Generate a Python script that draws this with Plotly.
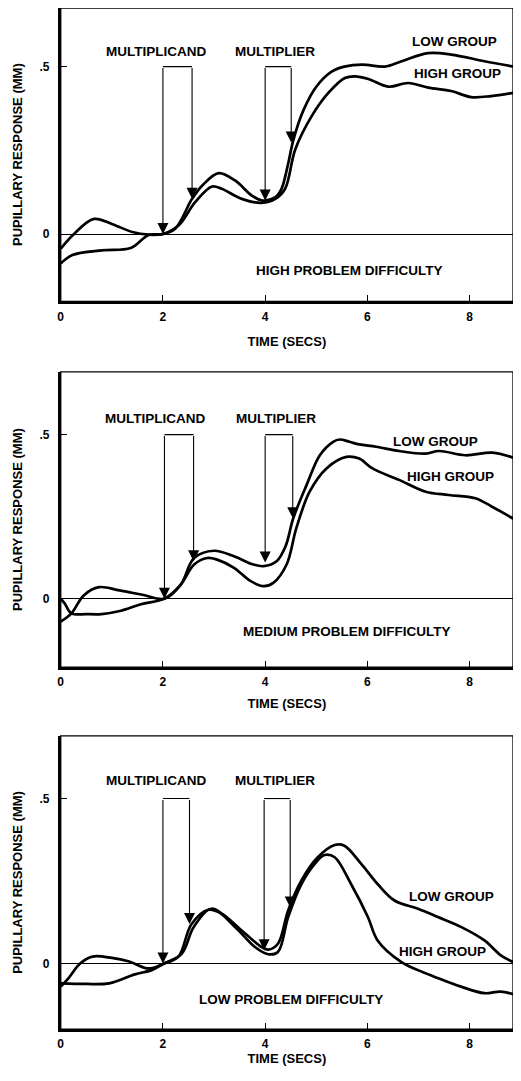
import plotly.graph_objects as go
from plotly.subplots import make_subplots

# ---------------- data ----------------
time_ticks = [0, 2, 4, 6, 8]
time_tick_labels = ["0", "2", "4", "6", "8"]
resp_ticks = [0, 0.5]
resp_tick_labels = ["0", ".5"]

panel_titles = ["HIGH PROBLEM DIFFICULTY", "MEDIUM PROBLEM DIFFICULTY", "LOW PROBLEM DIFFICULTY"]

# High problem difficulty
high_low_t = [0, 0.26, 0.65, 1.0, 1.4, 1.72, 2.0, 2.24, 2.57, 2.77, 3.09, 3.41, 3.74, 3.95, 4.2, 4.32,
              4.45, 4.55, 4.75, 5.0, 5.3, 5.55, 5.9, 6.34, 6.67, 7.19, 7.64, 8.29, 8.87]
high_low_y = [-0.044, 0.0, 0.045, 0.03, 0.006, -0.002, 0.0, 0.016, 0.105, 0.145, 0.182, 0.16, 0.115, 0.1, 0.11, 0.135,
              0.21, 0.28, 0.37, 0.44, 0.485, 0.5, 0.506, 0.5, 0.516, 0.54, 0.536, 0.516, 0.5]
high_high_t = [0, 0.23, 0.81, 1.37, 1.72, 2.0, 2.31, 2.63, 2.96, 3.15, 3.54, 3.93, 4.2, 4.39, 4.59, 4.91,
               5.24, 5.56, 5.76, 6.02, 6.41, 6.8, 7.19, 7.64, 8.03, 8.42, 8.87]
high_high_y = [-0.088, -0.063, -0.049, -0.042, -0.003, 0.0, 0.026, 0.095, 0.142, 0.135, 0.105, 0.093, 0.105, 0.135, 0.253, 0.352,
               0.422, 0.466, 0.471, 0.463, 0.44, 0.451, 0.437, 0.427, 0.409, 0.412, 0.422]

# Medium problem difficulty
med_low_t = [0, 0.21, 0.45, 0.75, 1.15, 1.6, 2.03, 2.35, 2.61, 3.0, 3.39, 3.77, 3.97, 4.23, 4.4, 4.55, 4.81,
             5.07, 5.33, 5.46, 5.65, 5.84, 6.17, 6.62, 7.14, 7.4, 7.92, 8.45, 8.9]
med_low_y = [-0.07, -0.045, 0.01, 0.035, 0.025, 0.012, 0.0, 0.043, 0.124, 0.146, 0.129, 0.104, 0.099, 0.115, 0.16, 0.245, 0.346,
             0.437, 0.478, 0.485, 0.478, 0.47, 0.463, 0.45, 0.442, 0.45, 0.437, 0.445, 0.427]
med_high_t = [0, 0.08, 0.21, 0.5, 0.8, 1.18, 1.57, 2.03, 2.35, 2.61, 2.87, 3.06, 3.39, 3.71, 3.97, 4.16, 4.42,
              4.61, 4.87, 5.2, 5.59, 5.84, 6.1, 6.62, 7.14, 7.59, 8.11, 8.43, 8.9]
med_high_y = [0.0, -0.015, -0.045, -0.047, -0.047, -0.037, -0.017, 0.0, 0.043, 0.104, 0.124, 0.119, 0.094, 0.054, 0.038, 0.048, 0.104,
              0.215, 0.326, 0.397, 0.432, 0.427, 0.397, 0.362, 0.326, 0.316, 0.306, 0.281, 0.24]

# Low problem difficulty
low_low_t = [0, 0.15, 0.38, 0.62, 1.0, 1.34, 1.72, 2.02, 2.3, 2.56, 2.89, 3.15, 3.54, 3.93, 4.06, 4.25, 4.45,
             4.71, 5.03, 5.36, 5.55, 5.88, 6.2, 6.53, 6.99, 7.38, 7.83, 8.29, 8.61, 8.92]
low_low_y = [-0.07, -0.045, 0.0, 0.021, 0.017, 0.006, -0.015, 0.0, 0.02, 0.12, 0.163, 0.151, 0.1, 0.05, 0.042, 0.06, 0.161,
             0.252, 0.322, 0.359, 0.357, 0.302, 0.241, 0.191, 0.166, 0.141, 0.111, 0.07, 0.025, 0.0]
low_high_t = [0, 0.5, 0.95, 1.45, 1.78, 2.02, 2.37, 2.6, 2.95, 3.41, 3.8, 4.06, 4.25, 4.45, 4.71, 4.97, 5.16,
              5.36, 5.68, 6.01, 6.2, 6.66, 6.99, 7.31, 7.83, 8.29, 8.61, 8.92]
low_high_y = [-0.06, -0.062, -0.06, -0.033, -0.02, 0.0, 0.03, 0.11, 0.166, 0.111, 0.05, 0.028, 0.035, 0.141, 0.241, 0.302, 0.329,
              0.322, 0.241, 0.141, 0.07, 0.005, -0.02, -0.04, -0.07, -0.09, -0.085, -0.096]

low_group_t = [high_low_t, med_low_t, low_low_t]
low_group_y = [high_low_y, med_low_y, low_low_y]
high_group_t = [high_high_t, med_high_t, low_high_t]
high_group_y = [high_high_y, med_high_y, low_high_y]

# stimulus brackets: [onset, end] times and where arrows end
multiplicand_t = [[2.0, 2.57], [2.03, 2.6], [2.0, 2.52]]
multiplicand_tip = [[0.0, 0.105], [0.0, 0.114], [0.0, 0.12]]
multiplier_t = [[4.0, 4.51], [4.0, 4.54], [3.98, 4.49]]
multiplier_tip = [[0.1, 0.273], [0.11, 0.245], [0.04, 0.17]]
bracket_top = 0.5

# label positions (time, response)
multiplicand_label = [(1.87, 0.546), (1.84, 0.548), (1.86, 0.555)]
multiplier_label = [(4.2, 0.546), (4.21, 0.548), (4.19, 0.555)]
low_label = [(7.71, 0.575), (7.33, 0.48), (7.64, 0.203)]
high_label = [(7.77, 0.479), (7.62, 0.372), (7.47, 0.035)]
title_label = [(5.66, -0.108), (5.59, -0.101), (4.51, -0.11)]

y_ranges = [[-0.201, 0.675], [-0.209, 0.691], [-0.199, 0.69]]
x_range = [0, 8.85]

# ---------------- figure ----------------
OFF = 8                      # page body margin
W, H = 513, 1058
FONT = "Liberation Sans"
fig = make_subplots(rows=3, cols=1)

# panel top/bottom in page pixels
panel_px = [(8, 303), (374, 671), (740, 1035)]
ydoms = [[1 - (b - OFF) / H, min(1.0, 1 - (t - OFF) / H)] for t, b in panel_px]
xdom = [(58 - OFF) / W, (513 - OFF) / W]

for i in range(3):
    r = i + 1
    xa = "x" if i == 0 else f"x{r}"
    ya = "y" if i == 0 else f"y{r}"
    line = dict(color="black", width=2.7)
    fig.add_trace(go.Scatter(x=low_group_t[i], y=low_group_y[i], mode="lines", line=line,
                             line_shape="spline", showlegend=False, name="LOW GROUP"), row=r, col=1)
    fig.add_trace(go.Scatter(x=high_group_t[i], y=high_group_y[i], mode="lines", line=line,
                             line_shape="spline", showlegend=False, name="HIGH GROUP"), row=r, col=1)

    # brackets (horizontal top lines)
    for ts in (multiplicand_t[i], multiplier_t[i]):
        fig.add_trace(go.Scatter(x=ts, y=[bracket_top, bracket_top], mode="lines",
                                 line=dict(color="black", width=1.1), showlegend=False,
                                 hoverinfo="skip"), row=r, col=1)
    # vertical arrows
    for ts, tips in ((multiplicand_t[i], multiplicand_tip[i]), (multiplier_t[i], multiplier_tip[i])):
        for t, tip in zip(ts, tips):
            fig.add_annotation(x=t, y=tip, ax=t, ay=bracket_top, xref=xa, yref=ya, axref=xa, ayref=ya,
                               showarrow=True, arrowhead=2, arrowsize=2.0, arrowwidth=1.1,
                               arrowcolor="black", text="", standoff=0)

    txtfont = dict(family=FONT, size=13.5, color="black", weight="bold")
    for (tx, ty), s in ((multiplicand_label[i], "MULTIPLICAND"), (multiplier_label[i], "MULTIPLIER"),
                        (low_label[i], "LOW GROUP"), (high_label[i], "HIGH GROUP"),
                        (title_label[i], panel_titles[i])):
        fig.add_annotation(x=tx, y=ty, xref=xa, yref=ya, text=s, showarrow=False, font=txtfont)

    # frame (thin top/right)
    fig.add_shape(type="rect", xref=f"{xa} domain", yref=f"{ya} domain", x0=0, x1=1, y0=0, y1=1,
                  line=dict(color="black", width=1.4))

    fig.update_xaxes(row=r, col=1, domain=xdom, range=x_range, showline=True, linewidth=2.7, linecolor="black",
                     ticks="inside", ticklen=6, tickwidth=1.2, tickcolor="black",
                     tickvals=time_ticks, ticktext=time_tick_labels, showgrid=False, zeroline=False,
                     tickfont=dict(family=FONT, size=12, color="black", weight="bold"),
                     ticklabelstandoff=2,
                     title=dict(text="TIME (SECS)", standoff=(15 if i == 0 else (11 if i == 1 else 5)),
                                font=dict(family=FONT, size=13, color="black", weight="bold")))
    fig.update_yaxes(row=r, col=1, domain=ydoms[i], range=y_ranges[i], showline=True, linewidth=2.7,
                     linecolor="black", ticks="inside", ticklen=6, tickwidth=1.2, tickcolor="black",
                     tickvals=resp_ticks, ticktext=resp_tick_labels, showgrid=False,
                     zeroline=True, zerolinecolor="black", zerolinewidth=1,
                     tickfont=dict(family=FONT, size=12, color="black", weight="bold"),
                     ticklabelstandoff=6,
                     title=dict(text="PUPILLARY RESPONSE (MM)", standoff=14,
                                font=dict(family=FONT, size=13, color="black", weight="bold")))

fig.update_layout(width=W, height=H, margin=dict(l=0, r=0, t=0, b=0),
                  plot_bgcolor="white", paper_bgcolor="white", showlegend=False)

fig.write_html("out.html")
